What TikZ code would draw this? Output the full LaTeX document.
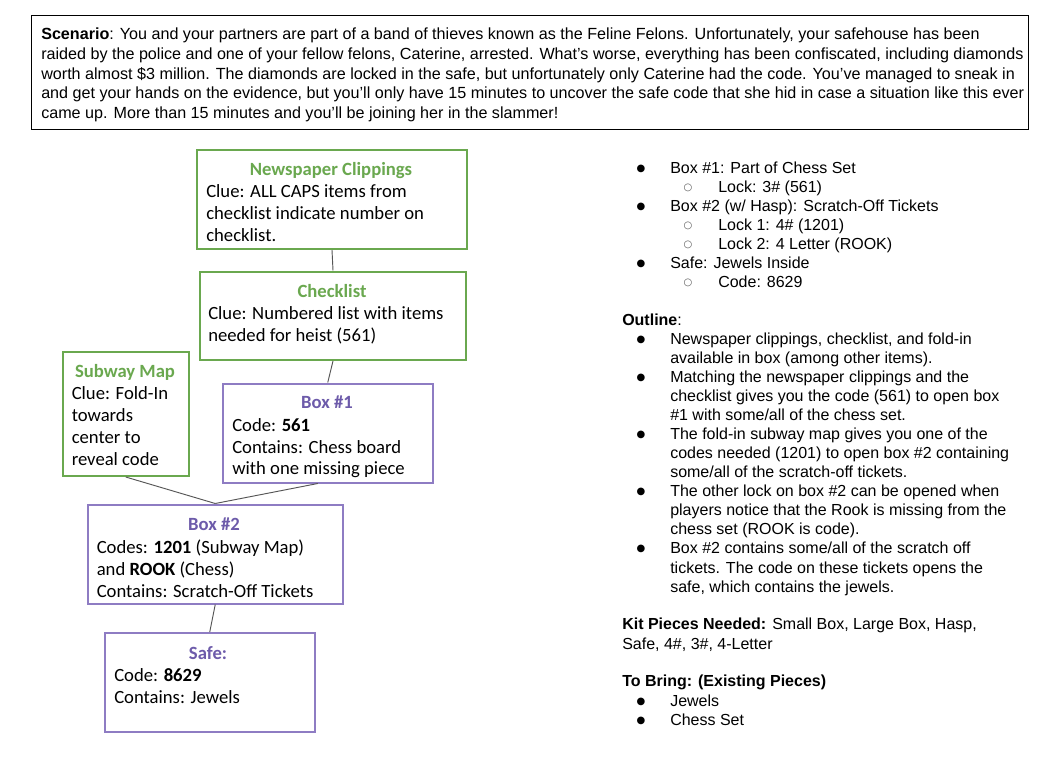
\documentclass[tikz,border=0pt]{standalone}
\usepackage{fontspec}
\usetikzlibrary{calc}
\setmainfont{Liberation Sans}
\newfontfamily\calfont{Carlito}
\newfontfamily\dejafont{DejaVu Sans}
\newfontfamily\narrowfont{Liberation Sans}
\definecolor{gr}{HTML}{6AA84F}
\definecolor{pu}{HTML}{8E7CC3}
\definecolor{put}{HTML}{6D5BAA}
\definecolor{ln}{HTML}{555555}
\newcommand\putline[5][txt]{\node[#1] (#2) at (#3,#4) {#5};}
\newcommand\boxnode[6]{\node[#2, minimum width={(#5-#3)*0.75pt}, minimum height={(#6-#4)*0.75pt}, anchor=north west] (#1) at (#3,#4) {};}
\tikzset{
  txt/.style={inner sep=0pt, anchor=mid west, yshift=-1.1pt, font=\fontsize{12}{14}\selectfont},
  sc/.style={inner sep=0pt, anchor=mid west, font=\narrowfont\fontsize{12.1}{14}\selectfont},
  bl/.style={inner sep=0pt, anchor=center, yshift=-0.3pt, font=\dejafont\fontsize{7.5}{9}\selectfont},
  sbl/.style={inner sep=0pt, anchor=center, yshift=0.4pt, text=black!65, font=\dejafont\fontsize{7.5}{9}\selectfont},
  cb/.style={inner sep=0pt, anchor=mid west, yshift=-1.1pt, font=\calfont\fontsize{14}{16}\selectfont},
  gtitle/.style={inner sep=0pt, anchor=mid, yshift=-1.1pt, text=gr, font=\calfont\bfseries\fontsize{14}{16}\selectfont},
  ptitle/.style={inner sep=0pt, anchor=mid, yshift=-1.1pt, text=put, font=\calfont\bfseries\fontsize{14}{16}\selectfont},
  gbox/.style={draw=gr, line width=1.5pt, inner sep=0pt, fill=white},
  pbox/.style={draw=pu, line width=1.5pt, inner sep=0pt, fill=white},
  sbox/.style={draw=black, line width=1pt, inner sep=0pt},
  conn/.style={draw=ln, line width=0.7pt},
}
\begin{document}
\begin{tikzpicture}[x=0.75pt,y=-0.75pt]
\useasboundingbox (0,0) rectangle (1056,768);
\fill[white] (0,0) rectangle (1056,768);
% scenario
\boxnode{scen}{sbox}{31}{15}{1028}{129}
\putline[sc]{s1}{41}{36}{\textbf{Scenario}: You and your partners are part of a band of thieves known as the Feline Felons. Unfortunately, your safehouse has been}
\putline[sc]{s2}{41}{56}{raided by the police and one of your fellow felons, Caterine, arrested. What’s worse, everything has been confiscated, including diamonds}
\putline[sc]{s3}{41}{75.5}{worth almost \$3 million. The diamonds are locked in the safe, but unfortunately only Caterine had the code. You’ve managed to sneak in}
\putline[sc]{s4}{41}{95}{and get your hands on the evidence, but you’ll only have 15 minutes to uncover the safe code that she hid in case a situation like this ever}
\putline[sc]{s5}{41}{115}{came up. More than 15 minutes and you’ll be joining her in the slammer!}
% boxes
\boxnode{news}{gbox}{196}{149}{466}{248}
\boxnode{chk}{gbox}{199}{270.5}{465}{359}
\boxnode{sub}{gbox}{62}{350.5}{187.5}{475}
\boxnode{bxa}{pbox}{222}{382.5}{431.5}{481.5}
\boxnode{bxb}{pbox}{87}{503.5}{341.5}{602.5}
\boxnode{safe}{pbox}{104}{632}{313.5}{730.5}
% connectors
\coordinate (bxaout) at ($(bxa.south)+(-10,0)$);
\draw[conn] (news.south) -- (chk.north);
\draw[conn] (chk.south) -- (bxa.north);
\draw[conn] (sub.south) -- (bxb.north);
\draw[conn] (bxaout) -- (bxb.north);
\draw[conn] (bxb.south) -- (safe.north);
% box texts
\putline[gtitle]{newst}{331}{171}{Newspaper Clippings}
\putline[cb]{news1}{206}{193}{Clue: ALL CAPS items from}
\putline[cb]{news2}{206}{215}{checklist indicate number on}
\putline[cb]{news3}{206}{237}{checklist.}
\putline[gtitle]{chkt}{332}{292.5}{Checklist}
\putline[cb]{chk1}{208}{314.5}{Clue: Numbered list with items}
\putline[cb]{chk2}{208}{336.5}{needed for heist (561)}
\putline[gtitle]{subt}{125}{373}{Subway Map}
\putline[cb]{sub1}{71.5}{395}{Clue: Fold-In}
\putline[cb]{sub2}{71.5}{417}{towards}
\putline[cb]{sub3}{71.5}{439}{center to}
\putline[cb]{sub4}{71.5}{461}{reveal code}
\putline[ptitle]{bxat}{327}{404}{Box \#1}
\putline[cb]{bxa1}{232}{426.5}{Code: \textbf{561}}
\putline[cb]{bxa2}{232}{448.5}{Contains: Chess board}
\putline[cb]{bxa3}{232}{470}{with one missing piece}
\putline[ptitle]{bxbt}{214}{526}{Box \#2}
\putline[cb]{bxb1}{96.5}{548.5}{Codes: \textbf{1201} (Subway Map)}
\putline[cb]{bxb2}{96.5}{570.5}{and \textbf{ROOK} (Chess)}
\putline[cb]{bxb3}{96.5}{592}{Contains: Scratch-Off Tickets}
\putline[ptitle]{safet}{208}{654.5}{Safe:}
\putline[cb]{safe1}{114}{676.5}{Code: \textbf{8629}}
\putline[cb]{safe2}{114}{698}{Contains: Jewels}
% right column
\putline[bl]{b1}{641}{169}{●}
\putline{r1}{670}{169}{Box \#1: Part of Chess Set}
\putline[sbl]{b2}{688}{188}{○}
\putline{r2}{718}{188}{Lock: 3\# (561)}
\putline[bl]{b3}{641}{207}{●}
\putline{r3}{670}{207}{Box \#2 (w/ Hasp): Scratch-Off Tickets}
\putline[sbl]{b4}{688}{226}{○}
\putline{r4}{718}{226}{Lock 1: 4\# (1201)}
\putline[sbl]{b5}{688}{245}{○}
\putline{r5}{718}{245}{Lock 2: 4 Letter (ROOK)}
\putline[bl]{b6}{641}{264}{●}
\putline{r6}{670}{264}{Safe: Jewels Inside}
\putline[sbl]{b7}{688}{283}{○}
\putline{r7}{718}{283}{Code: 8629}
\putline{o0}{622}{321}{\textbf{Outline}:}
\putline[bl]{ob1}{641}{340}{●}
\putline{o1}{670}{340}{Newspaper clippings, checklist, and fold-in}
\putline{o2}{670}{359}{available in box (among other items).}
\putline[bl]{ob3}{641}{378}{●}
\putline{o3}{670}{378}{Matching the newspaper clippings and the}
\putline{o4}{670}{397}{checklist gives you the code (561) to open box}
\putline{o5}{670}{416}{\#1 with some/all of the chess set.}
\putline[bl]{ob6}{641}{435}{●}
\putline{o6}{670}{435}{The fold-in subway map gives you one of the}
\putline{o7}{670}{454}{codes needed (1201) to open box \#2 containing}
\putline{o8}{670}{473}{some/all of the scratch-off tickets.}
\putline[bl]{ob9}{641}{492}{●}
\putline{o9}{670}{492}{The other lock on box \#2 can be opened when}
\putline{o10}{670}{511}{players notice that the Rook is missing from the}
\putline{o11}{670}{530}{chess set (ROOK is code).}
\putline[bl]{ob12}{641}{549}{●}
\putline{o12}{670}{549}{Box \#2 contains some/all of the scratch off}
\putline{o13}{670}{568}{tickets. The code on these tickets opens the}
\putline{o14}{670}{587}{safe, which contains the jewels.}
\putline{k1}{622}{625}{\textbf{Kit Pieces Needed:} Small Box, Large Box, Hasp,}
\putline{k2}{622}{644}{Safe, 4\#, 3\#, 4-Letter}
\putline{t0}{622}{681.5}{\textbf{To Bring: (Existing Pieces)}}
\putline[bl]{tb1}{641}{701}{●}
\putline{t1}{670}{701}{Jewels}
\putline[bl]{tb2}{641}{720}{●}
\putline{t2}{670}{720}{Chess Set}
\end{tikzpicture}
\end{document}
